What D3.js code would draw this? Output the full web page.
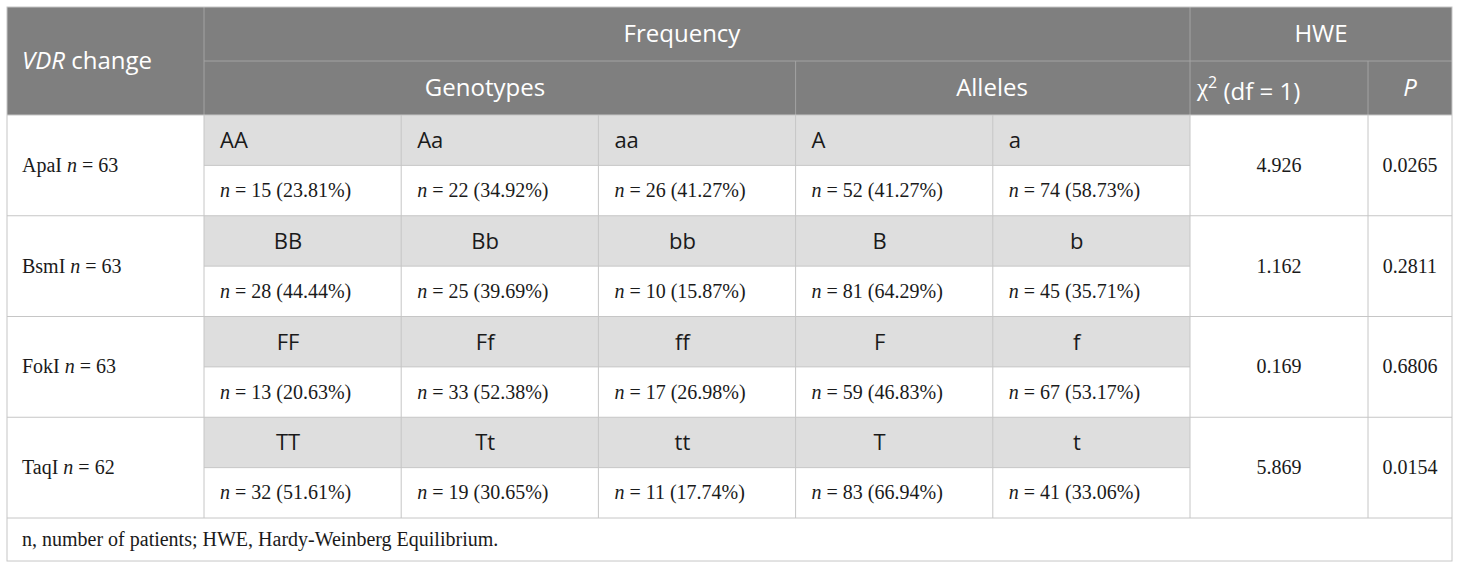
<!DOCTYPE html>
<html>
<head>
<meta charset="utf-8">
<script src="https://cdn.jsdelivr.net/npm/d3@7"></script>
<style>
  body { margin: 0; background: #fff; }
  svg text { font-family: "Liberation Serif", "Times New Roman", serif; fill: #1a1a1a; }
  svg text.head { font-family: "Open Sans", "Noto Sans", sans-serif; fill: #fff; }
  svg text.lab { font-family: "Open Sans", "Noto Sans", sans-serif; }
  svg tspan.chi { font-family: "Liberation Serif", serif; }
</style>
</head>
<body>
<svg id="chart" width="1460" height="569"></svg>
<script>
// table values
var markers = ["ApaI", "BsmI", "FokI", "TaqI"];
var patients = [63, 63, 63, 62];
var labels = [
  ["AA", "Aa", "aa", "A", "a"],
  ["BB", "Bb", "bb", "B", "b"],
  ["FF", "Ff", "ff", "F", "f"],
  ["TT", "Tt", "tt", "T", "t"]
];
var counts = [
  [15, 22, 26, 52, 74],
  [28, 25, 10, 81, 45],
  [13, 33, 17, 59, 67],
  [32, 19, 11, 83, 41]
];
var percents = [
  ["23.81", "34.92", "41.27", "41.27", "58.73"],
  ["44.44", "39.69", "15.87", "64.29", "35.71"],
  ["20.63", "52.38", "26.98", "46.83", "53.17"],
  ["51.61", "30.65", "17.74", "66.94", "33.06"]
];
var chi2 = ["4.926", "1.162", "0.169", "5.869"];
var pvalues = ["0.0265", "0.2811", "0.6806", "0.0154"];
var footnote = "n, number of patients; HWE, Hardy-Weinberg Equilibrium.";

/// layout (note: not "top", that one is window.top)
var tLeft = 7, tRight = 1452, tTop = 7, tBottom = 561;
var headMid = 61, headBottom = 115, bodyBottom = 518;
var labelRight = 204, freqRight = 1190, chiRight = 1368;
var headBg = "#7f7f7f", headLine = "#a3a3a3", cellGrey = "#dedede", line = "#c6c6c6";

var svg = d3.select("#chart");

var x = d3.scaleBand().domain(d3.range(5)).range([labelRight, freqRight]);
var y = d3.scaleBand().domain(markers).range([headBottom, bodyBottom]);
var half = function() { return y.bandwidth() / 2; };

// header block
svg.append("rect")
  .attr("x", tLeft).attr("y", tTop)
  .attr("width", tRight - tLeft).attr("height", headBottom - tTop)
  .attr("fill", headBg);

var headLines = [
  [labelRight, headMid, tRight, headMid],
  [labelRight, tTop, labelRight, headBottom],
  [x(3), headMid, x(3), headBottom],
  [freqRight, tTop, freqRight, headBottom],
  [chiRight, headMid, chiRight, headBottom]
];
svg.selectAll("line.h").data(headLines).enter().append("line")
  .attr("x1", function(d) { return d[0]; }).attr("y1", function(d) { return d[1]; })
  .attr("x2", function(d) { return d[2]; }).attr("y2", function(d) { return d[3]; })
  .attr("stroke", headLine).attr("stroke-width", 1);

var hsize = 24;
var vdr = svg.append("text").attr("class", "head")
  .attr("x", 22).attr("y", (tTop + headBottom) / 2).attr("dy", "0.35em")
  .style("font-size", hsize + "px");
vdr.append("tspan").style("font-style", "italic").text("VDR");
vdr.append("tspan").text(" change");

var heads = [
  { t: "Frequency", cx: 682, cy: (tTop + headMid) / 2 },
  { t: "Genotypes", cx: 485, cy: (headMid + headBottom) / 2 },
  { t: "Alleles", cx: 992, cy: (headMid + headBottom) / 2 },
  { t: "HWE", cx: 1321, cy: (tTop + headMid) / 2 }
];
svg.selectAll("text.hd").data(heads).enter().append("text")
  .attr("class", "head")
  .attr("x", function(d) { return d.cx; })
  .attr("y", function(d) { return d.cy; })
  .attr("dy", "0.35em")
  .attr("text-anchor", "middle")
  .style("font-size", hsize + "px")
  .text(function(d) { return d.t; });

var chiT = svg.append("text").attr("class", "head")
  .attr("x", 1197).attr("y", (headMid + headBottom) / 2).attr("dy", "0.35em")
  .style("font-size", hsize + "px");
chiT.append("tspan").attr("class", "chi").style("font-size", "25px").text("\u03c7");
chiT.append("tspan").attr("dy", "-0.5em").style("font-size", "16px").text("2");
chiT.append("tspan").attr("dy", "0.5em").text(" (df = 1)");

svg.append("text").attr("class", "head")
  .attr("x", (chiRight + tRight) / 2).attr("y", (headMid + headBottom) / 2).attr("dy", "0.35em")
  .attr("text-anchor", "middle")
  .style("font-size", hsize + "px").style("font-style", "italic")
  .text("P");

// body rows
var rows = svg.selectAll("g.row").data(markers).enter().append("g")
  .attr("class", "row")
  .attr("transform", function(d) { return "translate(0," + y(d) + ")"; });

rows.append("rect")
  .attr("x", labelRight).attr("y", 0)
  .attr("width", freqRight - labelRight).attr("height", half())
  .attr("fill", cellGrey);

rows.append("line")
  .attr("x1", labelRight).attr("x2", freqRight)
  .attr("y1", half()).attr("y2", half())
  .attr("stroke", line);

var rl = rows.append("text")
  .attr("x", 22).attr("y", half()).attr("dy", "0.33em")
  .style("font-size", "20px");
rl.append("tspan").text(function(d) { return d + " "; });
rl.append("tspan").style("font-style", "italic").text("n");
rl.append("tspan").text(function(d, i) { return " = " + patients[i]; });

rows.each(function(m, i) {
  var g = d3.select(this);
  g.selectAll("text.lab").data(labels[i]).enter().append("text")
    .attr("class", "lab")
    .attr("x", function(d, j) { return i === 0 ? x(j) + 16 : x(j) + 84; })
    .attr("y", half() / 2).attr("dy", "0.36em")
    .attr("text-anchor", i === 0 ? "start" : "middle")
    .style("font-size", "22px")
    .text(function(d) { return d; });

  var vals = g.selectAll("text.val").data(counts[i]).enter().append("text")
    .attr("x", function(d, j) { return x(j) + 16; })
    .attr("y", half() * 1.5).attr("dy", "0.33em")
    .style("font-size", "20px");
  vals.append("tspan").style("font-style", "italic").text("n");
  vals.append("tspan").text(function(d, j) { return " = " + d + " (" + percents[i][j] + "%)"; });

  g.append("text")
    .attr("x", (freqRight + chiRight) / 2).attr("y", half()).attr("dy", "0.33em")
    .attr("text-anchor", "middle").style("font-size", "20px")
    .text(chi2[i]);
  g.append("text")
    .attr("x", (chiRight + tRight) / 2).attr("y", half()).attr("dy", "0.33em")
    .attr("text-anchor", "middle").style("font-size", "20px")
    .text(pvalues[i]);
});

// grid lines of the body
var rowEdges = markers.map(function(m) { return y(m); }).concat([bodyBottom]);
svg.selectAll("line.rowEdge").data(rowEdges).enter().append("line")
  .attr("x1", tLeft).attr("x2", tRight)
  .attr("y1", function(d) { return d; }).attr("y2", function(d) { return d; })
  .attr("stroke", line);

var colEdges = [labelRight].concat(d3.range(1, 5).map(function(j) { return x(j); }), [freqRight, chiRight]);
svg.selectAll("line.colEdge").data(colEdges).enter().append("line")
  .attr("x1", function(d) { return d; }).attr("x2", function(d) { return d; })
  .attr("y1", headBottom).attr("y2", bodyBottom)
  .attr("stroke", line);

// footnote
svg.append("text")
  .attr("x", 22).attr("y", (bodyBottom + tBottom) / 2).attr("dy", "0.33em")
  .style("font-size", "20px")
  .text(footnote);

// outer frame
svg.append("rect")
  .attr("x", tLeft).attr("y", tTop)
  .attr("width", tRight - tLeft).attr("height", tBottom - tTop)
  .attr("fill", "none").attr("stroke", line);
</script>
</body>
</html>
